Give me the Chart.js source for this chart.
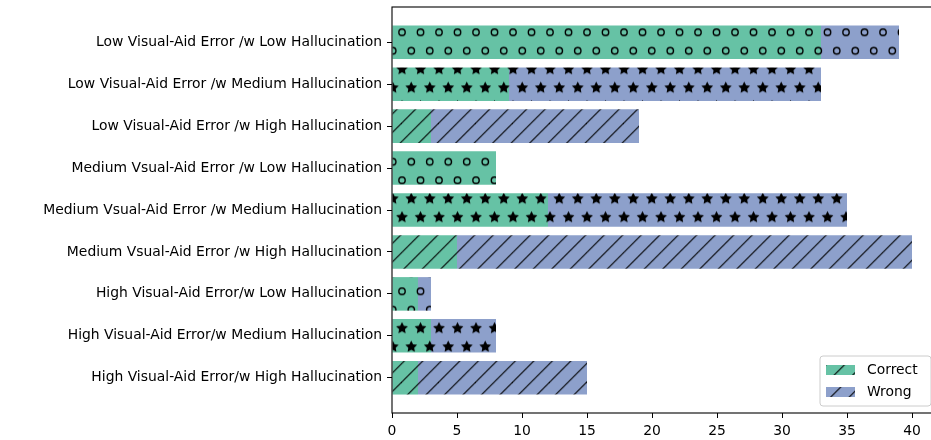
<!DOCTYPE html>
<html>
<head>
<meta charset="utf-8">
<script src="https://cdn.jsdelivr.net/npm/chart.js@4.4.0/dist/chart.umd.min.js"></script>
<style>
html,body{margin:0;padding:0;background:#fff;overflow:hidden}
#wrap{width:938px;height:440px}
</style>
</head>
<body>
<div id="wrap"><canvas id="c" width="938" height="440"></canvas></div>
<script>
// ── data ──
var yLabels=[
  "Low Visual-Aid Error /w Low Hallucination",
  "Low Visual-Aid Error /w Medium Hallucination",
  "Low Visual-Aid Error /w High Hallucination",
  "Medium Vsual-Aid Error /w Low Hallucination",
  "Medium Vsual-Aid Error /w Medium Hallucination",
  "Medium Vsual-Aid Error /w High Hallucination",
  "High Visual-Aid Error/w Low Hallucination",
  "High Visual-Aid Error/w Medium Hallucination",
  "High Visual-Aid Error/w High Hallucination"
];
var correct=[33,9,3,8,12,5,2,3,2];
var wrong=[6,24,16,0,23,35,1,5,13];
var seriesNames=["Correct","Wrong"];
var xTicks=[0,5,10,15,20,25,30,35,40];

// ── style ──
var GREEN="#66c2a5",BLUE="#8da0cb";
var hatchCycle=["o","*","/"];
var FONT={family:"DejaVu Sans",size:13.9};
var CELL=18.5,TILE=37;

function star(g,x,y,ro,ri){
  g.beginPath();
  for(var i=0;i<10;i++){
    var r=i%2?ri:ro,a=-Math.PI/2+i*Math.PI/5;
    var px=x+r*Math.cos(a),py=y+r*Math.sin(a);
    if(i)g.lineTo(px,py);else g.moveTo(px,py);
  }
  g.closePath();g.fill();
}

function makeHatch(ctx,color,h){
  var c=document.createElement("canvas");
  c.width=TILE;c.height=TILE;
  var g=c.getContext("2d");
  g.fillStyle=color;g.fillRect(0,0,TILE,TILE);
  g.strokeStyle="#000";g.fillStyle="#000";
  if(h==="/"){
    g.lineWidth=1.1;
    for(var k=-3;k<=6;k++){
      var q=k*CELL-2;
      g.beginPath();g.moveTo(q+6,-6);g.lineTo(q-TILE-6,TILE+6);g.stroke();
    }
  }else{
    for(var r=-1;r<=3;r++)for(var k2=-1;k2<=3;k2++){
      var x=k2*CELL+(r%2?CELL/2:0),y=r*CELL;
      if(h==="o"){
        g.lineWidth=1.4;
        g.beginPath();g.arc(x,y,3.2,0,Math.PI*2);g.stroke();
      }else{
        star(g,x,y,6.2,3.1);
      }
    }
  }
  var p=ctx.createPattern(c,"repeat");
  p.setTransform(new DOMMatrix().translate(402,32.3));
  return p;
}

var canvas=document.getElementById("c");
var ctx=canvas.getContext("2d");
var pats={};
[GREEN,BLUE].forEach(function(col){
  pats[col]={};
  hatchCycle.forEach(function(h){pats[col][h]=makeHatch(ctx,col,h);});
});
function fills(col){
  return yLabels.map(function(l,i){return pats[col][hatchCycle[i%3]];});
}

var framePlugin={
  id:"frame",
  afterDatasetsDraw:function(ch){
    var a=ch.chartArea,g=ch.ctx;
    g.save();
    g.strokeStyle="#000";g.lineWidth=1.1;
    g.strokeRect(a.left,a.top,a.right-a.left,a.bottom-a.top);
    g.restore();
  }
};

var legendPlugin={
  id:"hatchLegend",
  afterDraw:function(ch){
    var g=ch.ctx,a=ch.chartArea;
    var bx=820,by=356,bw=a.right-7-bx,bh=50;
    g.save();
    g.beginPath();
    if(g.roundRect)g.roundRect(bx,by,bw,bh,3);else g.rect(bx,by,bw,bh);
    g.fillStyle="rgba(255,255,255,0.8)";g.fill();
    g.strokeStyle="#cccccc";g.lineWidth=1;g.stroke();
    var cols=[GREEN,BLUE];
    g.font=FONT.size+"px '"+FONT.family+"'";
    g.textBaseline="middle";g.textAlign="left";
    seriesNames.forEach(function(n,i){
      var cy=370+i*22;
      g.fillStyle=pats[cols[i]]["/"];
      g.fillRect(826,cy-5,29,10);
      g.fillStyle="#000";
      g.fillText(n,867,cy);
    });
    g.restore();
  }
};

new Chart(canvas,{
  type:"bar",
  data:{
    datasets:[
      {label:seriesNames[0],data:correct.map(function(v,i){return{x:v,y:i};}),backgroundColor:fills(GREEN)},
      {label:seriesNames[1],data:wrong.map(function(v,i){return{x:v,y:i};}),backgroundColor:fills(BLUE)}
    ]
  },
  options:{
    responsive:false,
    animation:false,
    indexAxis:"y",
    layout:{padding:{top:7,left:0,right:0,bottom:0}},
    datasets:{bar:{barPercentage:0.8,categoryPercentage:1,borderWidth:0}},
    plugins:{legend:{display:false},tooltip:{enabled:false}},
    scales:{
      x:{
        type:"linear",stacked:true,min:0,max:42,offset:false,
        afterBuildTicks:function(s){s.ticks=xTicks.map(function(v){return{value:v};});},
        afterFit:function(s){s.height=27;s.paddingLeft=0;s.paddingRight=0;},
        border:{display:false},
        grid:{drawOnChartArea:false,drawTicks:true,tickLength:5,color:"#000",lineWidth:1,offset:false},
        ticks:{color:"#000",font:FONT,padding:5,maxRotation:0,autoSkip:false}
      },
      y:{
        type:"linear",stacked:true,reverse:true,min:-0.84,max:8.84,offset:false,
        afterBuildTicks:function(s){s.ticks=yLabels.map(function(l,i){return{value:i};});},
        afterFit:function(s){s.width=392;s.paddingTop=0;s.paddingBottom=0;},
        border:{display:false},
        grid:{drawOnChartArea:false,drawTicks:true,tickLength:5,color:"#000",lineWidth:1,offset:false},
        ticks:{color:"#000",font:FONT,padding:5,autoSkip:false,
          callback:function(v){return yLabels[v];}}
      }
    }
  },
  plugins:[framePlugin,legendPlugin]
});
</script>
</body>
</html>
